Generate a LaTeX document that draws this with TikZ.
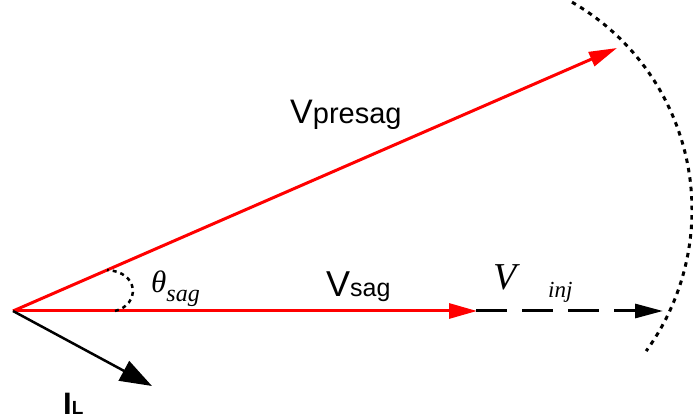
\documentclass[tikz,border=0pt]{standalone}
\usepackage{fontspec}
\setmainfont{Liberation Sans}
\newfontfamily\timesfont{Liberation Serif}
\usetikzlibrary{arrows.meta}

\newcommand{\fs}[1]{\fontsize{#1}{#1}\selectfont}

\tikzset{
  phasor/.style={red, line width=3pt, -{Triangle[length=28pt, width=15pt]}},
  current/.style={black, line width=2.5pt, -{Triangle[length=32pt, width=22pt]}},
  inject/.style={black, line width=3pt, dash pattern=on 31pt off 15pt,
    -{Triangle[length=28pt, width=14pt]}},
  lbl/.style={anchor=base west, inner sep=0pt}
}

\begin{document}
\begin{tikzpicture}[x=1pt, y=-1pt]
\useasboundingbox (0,0) rectangle (693,419);

% Phasors
\coordinate (O) at (13,311);
\coordinate (presag) at (617,48);
\coordinate (sag) at (476,311);
\coordinate (inj) at (663,311);
\coordinate (il) at (152,386);

\draw[phasor] (O) -- (presag);
\draw[phasor, shorten >=-1pt] (O) -- (sag);
\draw[inject] (sag) -- (inj);
\draw[current] (O) -- (il);

% Angle and locus
\draw[black, line width=2.5pt, dash pattern=on 4pt off 4pt]
  (115,311) .. controls (140,305) and (140,272) .. (107,270);
\coordinate (C) at (452,210);
\draw[black, line width=3pt, dash pattern=on 4.5pt off 5pt]
  (C) ++(-60:240) arc[start angle=-60, end angle=36, radius=240];

% Labels
\node[lbl] (vpresag) at (290,124) {\fs{34}V\fs{29}presag};
\node[lbl] (vsag) at (326,297) {\fs{36}V\fs{25}sag};
\node[lbl] (theta) at (151,293)
  {\timesfont\itshape\fs{31}θ\raisebox{-9pt}{\fs{24}sag}};
\node[lbl] (vinj) at (493,290) {\timesfont\itshape\fs{38}V};
\node[lbl] (inj) at (548,298) {\timesfont\itshape\fs{23}inj};
\node[lbl] (IL) at (63,414) {\bfseries\fs{31}I\fs{19}L};
\end{tikzpicture}
\end{document}
